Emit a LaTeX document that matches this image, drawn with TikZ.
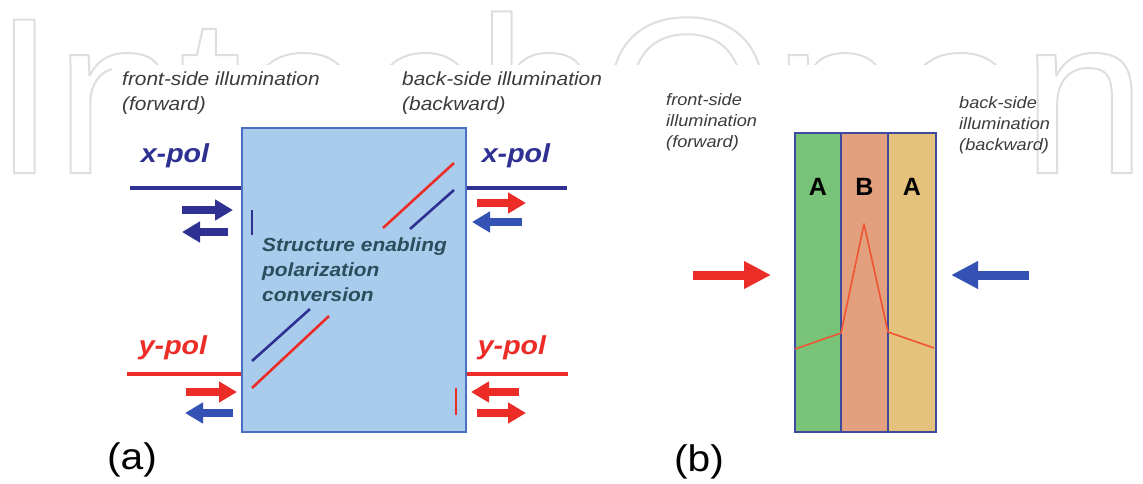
\documentclass[tikz,border=0pt]{standalone}
\usepackage{fontspec}
\setmainfont{Liberation Sans}
\newfontfamily\labelfont[FakeStretch=1.1]{Liberation Sans}
\usetikzlibrary{arrows.meta}
\usetikzlibrary{positioning}

\definecolor{navy}{HTML}{2E3192}
\definecolor{polred}{HTML}{EC2D27}
\definecolor{midblue}{HTML}{3452B4}
\definecolor{boxblue}{HTML}{A9CCEC}
\definecolor{boxedge}{HTML}{4A6FC0}
\definecolor{structtext}{HTML}{2A4E5C}
\definecolor{labelgray}{HTML}{3C3C3C}
\definecolor{layerA}{HTML}{78C378}
\definecolor{layerB}{HTML}{E2A07E}
\definecolor{layerC}{HTML}{E4C27B}
\definecolor{layeredge}{HTML}{3D4A9E}
\definecolor{profile}{HTML}{EF5533}
\definecolor{wmgray}{HTML}{DEDEDE}

\newcommand\outlined[1]{\special{pdf:literal direct 1 Tr 2 w}#1\special{pdf:literal direct 0 Tr}}

\begin{document}
\begin{tikzpicture}[x=1pt,y=-1pt,
    lbl/.style={font=\labelfont\itshape\fontsize{19}{25}\selectfont,text=labelgray,align=left,inner sep=0pt,anchor=north west},
    lblsmall/.style={lbl,font=\labelfont\itshape\fontsize{16.5}{21}\selectfont},
    pol/.style={font=\labelfont\bfseries\itshape\fontsize{26}{30}\selectfont,inner sep=0pt},
    polline/.style={line width=3.5pt},
    fat/.style={line width=7.5pt,-{Triangle[length=18pt,width=20pt]}},
    big/.style={line width=9pt,-{Triangle[length=27pt,width=26pt]}},
    sliver/.style={line width=2.6pt},
    layer/.style={draw=layeredge,line width=1.2pt,minimum height=299pt,inner sep=0pt,outer sep=0pt},
    panel/.style={font=\labelfont\fontsize{37}{40}\selectfont,inner sep=0pt}]

  \useasboundingbox (0,0) rectangle (1143,483);

  % watermark behind the figure
  \node [anchor=base west,inner sep=0pt,font=\fontsize{223}{223}\selectfont,text=wmgray] (wm) at (-7,173) {\outlined{IntechOpen}};
  \fill [white] (112,65) rectangle (1027,483);

  % (a) polarization converter
  \node [lbl] (frontA) at (122,72) {front-side illumination\\(forward)};
  \node [lbl] (backA) at (402,72) {back-side illumination\\(backward)};

  \node [draw=boxedge,fill=boxblue,line width=1.5pt,minimum width=224pt,minimum height=304pt,inner sep=0pt] (conv) at (354,280) {};

  \node [pol,text=navy] (xpolL) at (175,156) {x-pol};
  \node [pol,text=navy] (xpolR) at (516,156) {x-pol};
  \node [pol,text=polred] (ypolL) at (173,348) {y-pol};
  \node [pol,text=polred] (ypolR) at (512,348) {y-pol};

  \coordinate (xlineL) at (130,188);
  \coordinate (xlineR) at (567,188);
  \coordinate (ylineL) at (127,374);
  \coordinate (ylineR) at (568,374);
  \draw [polline,navy] (xlineL) -- (xlineL -| conv.west) (conv.east |- xlineR) -- (xlineR);
  \draw [polline,polred] (ylineL) -- (ylineL -| conv.west) (conv.east |- ylineR) -- (ylineR);

  \node [font=\labelfont\bfseries\itshape\fontsize{19}{25}\selectfont,text=structtext,align=left,inner sep=0pt,anchor=north west] (convtext) at (262,238) {Structure enabling\\polarization\\conversion};

  \draw [sliver,navy] (252,210) -- (252,235);
  \draw [sliver,polred] (456,388) -- (456,415);
  \draw [sliver,polred] (383,228) -- (454,163);
  \draw [sliver,navy] (410,229) -- (454,190);
  \draw [sliver,navy] (252,361) -- (310,309);
  \draw [sliver,polred] (252,388) -- (329,316);

  \path (182,210) coordinate (xL_fwd_s) (233,210) coordinate (xL_fwd_e)
        (228,232) coordinate (xL_bwd_s) (182,232) coordinate (xL_bwd_e)
        (477,203) coordinate (xR_fwd_s) (526,203) coordinate (xR_fwd_e)
        (522,222) coordinate (xR_bwd_s) (472,222) coordinate (xR_bwd_e)
        (186,392) coordinate (yL_fwd_s) (237,392) coordinate (yL_fwd_e)
        (233,413) coordinate (yL_bwd_s) (185,413) coordinate (yL_bwd_e)
        (519,392) coordinate (yR_bwd_s) (471,392) coordinate (yR_bwd_e)
        (477,413) coordinate (yR_fwd_s) (526,413) coordinate (yR_fwd_e);

  \path [fat]
    (xL_fwd_s) edge [navy] (xL_fwd_e)
    (xL_bwd_s) edge [navy] (xL_bwd_e)
    (xR_fwd_s) edge [polred] (xR_fwd_e)
    (xR_bwd_s) edge [midblue] (xR_bwd_e)
    (yL_fwd_s) edge [polred] (yL_fwd_e)
    (yL_bwd_s) edge [midblue] (yL_bwd_e)
    (yR_bwd_s) edge [polred] (yR_bwd_e)
    (yR_fwd_s) edge [polred] (yR_fwd_e);

  \node [panel] (tagA) at (132,460) {(a)};

  % (b) A-B-A stack
  \node [lblsmall] (frontB) at (666,93) {front-side\\illumination\\(forward)};
  \node [lblsmall] (backB) at (959,96) {back-side\\illumination\\(backward)};

  \node [layer,fill=layerA,minimum width=46pt] (layA1) at (818,282.5) {};
  \node [layer,fill=layerB,minimum width=47pt,right=0pt of layA1] (layB) {};
  \node [layer,fill=layerC,minimum width=48pt,right=0pt of layB] (layA2) {};
  \draw [layeredge,line width=2.6pt] (layA1.north east) -- (layA1.south east);
  \draw [layeredge,line width=2.6pt] (layB.north east) -- (layB.south east);

  \node [font=\bfseries\fontsize{25}{25}\selectfont,inner sep=0pt,below=45pt of layA1.north] (nameA1) {A};
  \node [font=\bfseries\fontsize{25}{25}\selectfont,inner sep=0pt,below=45pt of layB.north] (nameB) {B};
  \node [font=\bfseries\fontsize{25}{25}\selectfont,inner sep=0pt,below=45pt of layA2.north] (nameA2) {A};

  \draw [profile,line width=1.6pt,line join=round] (795,349) -- (841,333) -- (864,224) -- (888,332) -- (934,348);

  \coordinate (fwd_s) at (693,275);
  \coordinate (fwd_e) at (771,275);
  \coordinate (bwd_s) at (1029,275);
  \coordinate (bwd_e) at (951,275);
  \path [big]
    (fwd_s) edge [polred] (fwd_e)
    (bwd_s) edge [midblue] (bwd_e);

  \node [panel] (tagB) at (699,462) {(b)};

\end{tikzpicture}
\end{document}
